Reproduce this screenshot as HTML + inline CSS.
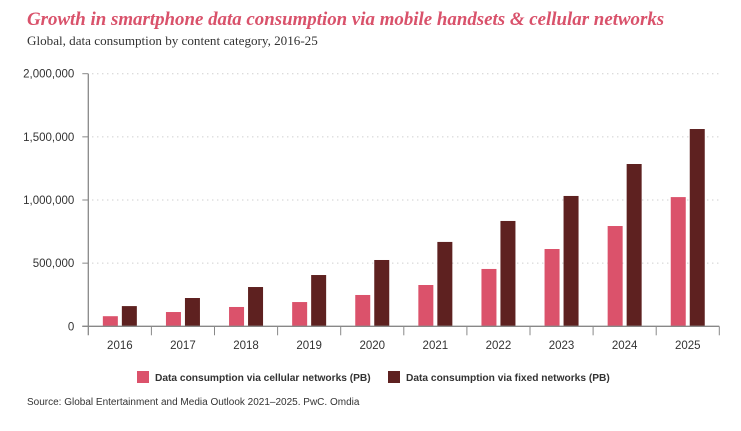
<!DOCTYPE html>
<html><head><meta charset="utf-8"><style>
body{margin:0;background:#fff;width:741px;height:431px;overflow:hidden;font-family:"Liberation Sans",sans-serif}
svg{position:absolute;left:0;top:0}
</style></head><body>
<svg width="741" height="431">
<text x="27" y="25" font-family="Liberation Serif" font-style="italic" font-weight="bold" font-size="18.9" fill="#d9526b">Growth in smartphone data consumption via mobile handsets &amp; cellular networks</text>
<text x="27" y="45" font-family="Liberation Serif" font-size="13.1" fill="#333">Global, data consumption by content category, 2016-25</text>
<g id="grid"></g><g id="bars"></g><g id="axes"></g>
<rect x="137" y="371" width="12" height="12" fill="#db526b"/>
<text x="155" y="381" font-size="10.2" font-weight="bold" fill="#333">Data consumption via cellular networks (PB)</text>
<rect x="388" y="371" width="12" height="12" fill="#5e2120"/>
<text x="406" y="381" font-size="10.2" font-weight="bold" fill="#333">Data consumption via fixed networks (PB)</text>
<text x="27" y="405" font-size="10" fill="#333">Source: Global Entertainment and Media Outlook 2021–2025. PwC. Omdia</text>
</svg>
<script>
const categories=["2016","2017","2018","2019","2020","2021","2022","2023","2024","2025"];
const cellular=[80000,113000,153000,192000,248000,327000,454000,612000,794000,1023000];
const fixed=[160000,224000,311000,406000,525000,668000,834000,1032000,1285000,1562000];
const yTicks=[0,500000,1000000,1500000,2000000];
const yTickLabels=["0","500,000","1,000,000","1,500,000","2,000,000"];
const NS="http://www.w3.org/2000/svg";
const X0=88.3,X1=719.3,Y0=326.3,Y1=73.7,YMAX=2000000;
const bw=(X1-X0)/categories.length;
const y=v=>Y0-(v/YMAX)*(Y0-Y1);
const x=i=>X0+bw*i;
function mk(t,a,p){const e=document.createElementNS(NS,t);for(const k in a)e.setAttribute(k,a[k]);p.appendChild(e);return e;}
const grid=document.getElementById('grid'),bars=document.getElementById('bars'),axes=document.getElementById('axes');
yTicks.forEach((v,i)=>{
 if(v>0){const g=mk('line',{x1:X0+4,x2:X1,y1:y(v),y2:y(v),stroke:'#bbb','stroke-dasharray':'1 4'},grid);
 
 }
 const tk=mk('line',{x1:X0-6,x2:X0,y1:y(v),y2:y(v),stroke:'#888'},axes);
 
 
 const t=mk('text',{x:X0-14,y:y(v)+4,'text-anchor':'end','font-size':'11.5',fill:'#333'},axes);
 t.textContent=yTickLabels[i];
 
 
});
categories.forEach((c,i)=>{
 const cx=x(i)+bw/2;
 const b1=mk('rect',{x:cx-17,y:y(cellular[i]),width:15,height:Y0-y(cellular[i]),fill:'#db526b'},bars);
 
 
 const b2=mk('rect',{x:cx+2,y:y(fixed[i]),width:15,height:Y0-y(fixed[i]),fill:'#5e2120'},bars);
 
 
 const t=mk('text',{x:cx,y:349,'text-anchor':'middle','font-size':'11.5',fill:'#333'},axes);
 t.textContent=c;
 
 
 const tk=mk('line',{x1:x(i+1),x2:x(i+1),y1:Y0,y2:Y0+9,stroke:'#888'},axes);
 
 
});
const ya=mk('line',{x1:X0,x2:X0,y1:Y1,y2:Y0+9,stroke:'#888','stroke-width':1.3},axes);


const xa=mk('line',{x1:X0-6,x2:X1,y1:Y0,y2:Y0,stroke:'#888','stroke-width':1.3},axes);


</script>
</body></html>
